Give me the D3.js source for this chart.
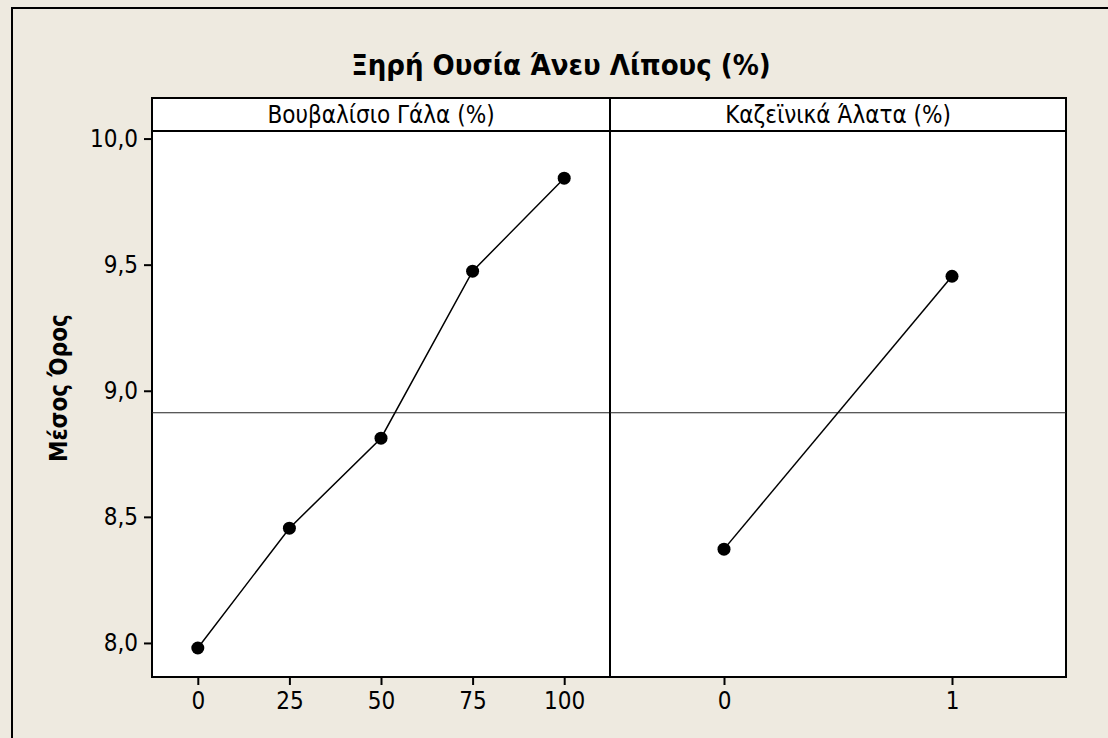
<!DOCTYPE html>
<html>
<head>
<meta charset="utf-8">
<script src="https://cdn.jsdelivr.net/npm/d3@7"></script>
<style>
  html, body { margin: 0; padding: 0; background: #EEEAE0; }
  svg { display: block; }
  text { font-family: "DejaVu Sans Condensed", "DejaVu Sans", sans-serif; fill: #000; }
</style>
</head>
<body>
<svg id="chart" width="1108" height="738"></svg>
<script>
// Main effects of two factors on the mean response
const chartTitle = "Ξηρή Ουσία Άνευ Λίπους (%)";
const yTitle = "Μέσος Όρος";

const milkLevels = [0, 25, 50, 75, 100];
const milkMeans = [7.98, 8.455, 8.812, 9.474, 9.843];

const saltLevels = [0, 1];
const saltMeans = [8.372, 9.454];

const yTicks = [8.0, 8.5, 9.0, 9.5, 10.0];

const panels = [
  { label: "Βουβαλίσιο Γάλα (%)", levels: milkLevels, means: milkMeans, domain: [-12.5, 112.5], x0: 152, x1: 610 },
  { label: "Καζεϊνικά Άλατα (%)", levels: saltLevels, means: saltMeans, domain: [-0.5, 1.5], x0: 610, x1: 1066 }
];

const grandMean = d3.mean(milkMeans);

const svg = d3.select("#chart");
const frameTop = 98, stripBottom = 131, frameBottom = 677;

// outer frame
svg.append("rect")
  .attr("x", 12).attr("y", 8).attr("width", 1120).attr("height", 760)
  .attr("fill", "#EEEAE0").attr("stroke", "#000").attr("stroke-width", 2);

svg.append("text")
  .attr("x", 561).attr("y", 75)
  .attr("text-anchor", "middle")
  .attr("font-weight", "bold")
  .attr("font-size", 29)
  .text(chartTitle);

const y = d3.scaleLinear().domain([7.865, 10.03]).range([frameBottom, stripBottom]);

const fmt = d => d.toFixed(1).replace(".", ",");

panels.forEach((p, i) => {
  const x = d3.scaleLinear().domain(p.domain).range([p.x0, p.x1]);
  const g = svg.append("g");

  // plot area and strip
  g.append("rect")
    .attr("x", p.x0).attr("y", frameTop).attr("width", p.x1 - p.x0).attr("height", frameBottom - frameTop)
    .attr("fill", "#fff").attr("stroke", "#000").attr("stroke-width", 2);
  g.append("line")
    .attr("x1", p.x0).attr("x2", p.x1).attr("y1", stripBottom).attr("y2", stripBottom)
    .attr("stroke", "#000").attr("stroke-width", 2);
  g.append("text")
    .attr("x", (p.x0 + p.x1) / 2).attr("y", 123)
    .attr("text-anchor", "middle").attr("font-size", 24)
    .text(p.label);

  // grand mean reference line
  g.append("line")
    .attr("x1", p.x0).attr("x2", p.x1)
    .attr("y1", y(grandMean)).attr("y2", y(grandMean))
    .attr("stroke", "#222").attr("stroke-width", 1.2);

  // x axis
  const xa = g.append("g")
    .attr("transform", `translate(0,${frameBottom})`)
    .call(d3.axisBottom(x).tickValues(p.levels).tickSize(8).tickPadding(7).tickFormat(d3.format("d")));
  xa.attr("font-family", null).attr("font-size", null);
  xa.select(".domain").remove();
  xa.selectAll("line").attr("stroke", "#000").attr("stroke-width", 2);
  xa.selectAll("text").attr("font-size", 24);

  // means
  const pts = p.levels.map((l, k) => [x(l), y(p.means[k])]);
  g.append("path")
    .attr("d", d3.line()(pts))
    .attr("fill", "none").attr("stroke", "#000").attr("stroke-width", 1.5);
  g.selectAll("circle").data(pts).join("circle")
    .attr("cx", d => d[0]).attr("cy", d => d[1]).attr("r", 6.5)
    .attr("fill", "#000");
});

// y axis
const ya = svg.append("g")
  .attr("transform", `translate(152,0)`)
  .call(d3.axisLeft(y).tickValues(yTicks).tickSize(8).tickPadding(6).tickFormat(fmt));
ya.attr("font-family", null).attr("font-size", null);
ya.select(".domain").remove();
ya.selectAll("line").attr("stroke", "#000").attr("stroke-width", 2);
ya.selectAll("text").attr("font-size", 24);

svg.append("text")
  .attr("transform", "translate(67,388) rotate(-90)")
  .attr("text-anchor", "middle")
  .attr("font-weight", "bold")
  .attr("font-size", 24)
  .text(yTitle);
</script>
</body>
</html>
